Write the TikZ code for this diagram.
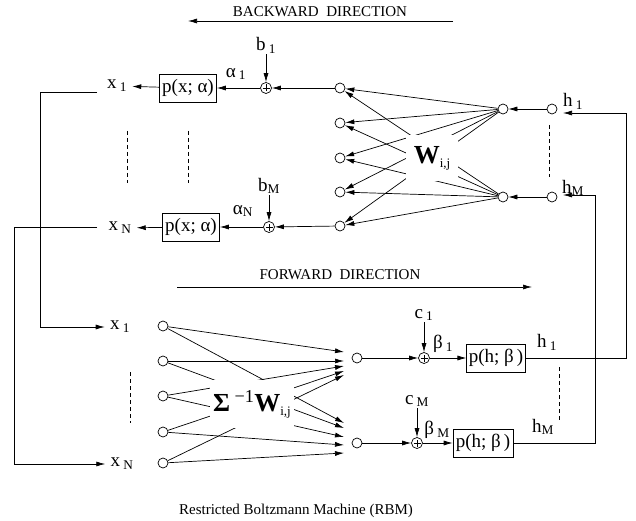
\documentclass[tikz,border=0pt]{standalone}
\usepackage{fontspec}
\setmainfont{Liberation Serif}
\usetikzlibrary{arrows.meta}

\newcommand\labfont{\fontsize{19}{21}\selectfont}
\newcommand\dirfont{\fontsize{15}{17}\selectfont}
\newcommand\wfont{\fontsize{26}{28}\selectfont}
\newcommand\wsub[1]{\raisebox{-4pt}{\fontsize{13}{13}\selectfont #1}}

\tikzset{
  arr/.style={-{Latex[length=9pt,width=5pt]}},
  unit/.style={circle, draw, minimum size=10pt, inner sep=0pt},
  adder/.style={circle, draw, minimum size=11pt, inner sep=0pt,
    path picture={
      \draw (path picture bounding box.center) ++(-3.5pt,0) -- ++(7pt,0);
      \draw (path picture bounding box.center) ++(0,-3.5pt) -- ++(0,7pt);
    }},
  pbox/.style={draw, minimum height=28pt, minimum width=57pt, inner xsep=2pt, font=\labfont},
  lab/.style={font=\labfont, inner sep=1pt},
  xlab/.style={font=\labfont, inner xsep=5pt, inner ysep=1pt},
  wlab/.style={font=\wfont, fill=white},
  elide/.style={dash pattern=on 4pt off 3pt},
}

\begin{document}
\begin{tikzpicture}[x=1pt, y=-1pt, line width=0.7pt]
  \useasboundingbox (0,0) rectangle (636,521);

  % Direction arrows
  \node[font=\dirfont] (bwd) at (320,12) {BACKWARD\enspace DIRECTION};
  \coordinate (bwdR) at (453,21);
  \coordinate (bwdL) at (188,21);
  \draw[arr] (bwdR) -- (bwdL);

  \node[font=\dirfont] (fwd) at (340,275) {FORWARD\enspace DIRECTION};
  \coordinate (fwdL) at (177,287);
  \coordinate (fwdR) at (532,287);
  \draw[arr] (fwdL) -- (fwdR);

  % Backward network
  \foreach \i/\y in {1/88, 2/123, 3/158, 4/192, 5/226}
    \node[unit] (bl\i) at (340,\y) {};
  \node[unit] (br1) at (503,109) {};
  \node[unit] (br2) at (503,197) {};
  \node[unit] (bh1) at (552,109) {};
  \node[unit] (bh2) at (552,197) {};
  \draw[arr] (bh1) -- (br1);
  \draw[arr] (bh2) -- (br2);
  \foreach \j in {1,2} {
    \foreach \i in {1,...,5} {
      \draw[arr] (br\j) -- (bl\i);
    }
  }
  \node[wlab, minimum width=52pt, minimum height=46pt] (wb) at (432,158)
    {\textbf{W}\wsub{i,j}};
  \node[lab] (hb1) at (573,101) {h\,\textsubscript{1}};
  \node[lab] (hb2) at (573,188) {h\textsubscript{M}};
  \draw[elide] (549,125) -- (549,177);

  % Backward outputs
  \node[adder] (ba1) at (266,88) {};
  \node[adder] (ba2) at (269,227) {};
  \node[pbox] (pb1) at (188,88) {p(x; α)};
  \node[pbox] (pb2) at (191,227) {p(x; α)};
  \node[xlab] (xb1) at (117,86) {x\,\textsubscript{1}};
  \node[xlab] (xb2) at (120,228) {x\,\textsubscript{N}};
  \node[lab] (bb1) at (266,45) {b\,\textsubscript{1}};
  \node[lab] (bb2) at (269,186) {b\textsubscript{M}};
  \node[lab] (al1) at (236,74) {α\,\textsubscript{1}};
  \node[lab] (al2) at (243,211) {α\textsubscript{N}};
  \draw[arr] (bl1) -- (ba1);
  \draw[arr] (bl5) -- (ba2);
  \draw[arr] (bb1) -- (ba1);
  \draw[arr] (bb2) -- (ba2);
  \draw[arr] (ba1) -- (pb1);
  \draw[arr] (ba2) -- (pb2);
  \draw[arr] (pb1) -- (xb1);
  \draw[arr] (pb2) -- (xb2);
  \draw[elide] (127,131) -- (127,183);
  \draw[elide] (188,131) -- (188,183);

  % Forward network (arrow tips fan out in front of the hidden units)
  \node[unit] (fr1) at (357,358) {};
  \node[unit] (fr2) at (357,443) {};
  \foreach \i/\y/\ta/\tb in {1/326/352/423, 2/361/361/428, 3/396/366/437,
                             4/432/371/445, 5/463/375/453} {
    \node[unit] (fl\i) at (163,\y) {};
    \coordinate (tu\i) at (344,\ta);
    \coordinate (td\i) at (344,\tb);
    \draw[arr] (fl\i) -- (tu\i);
    \draw[arr] (fl\i) -- (td\i);
  }
  \node[wlab, minimum width=76pt, minimum height=48pt] (wf) at (252,404)
    {\textbf{Σ}\,\textsuperscript{−1}\textbf{W}\wsub{i,j}};
  \node[xlab] (xf1) at (120,327) {x\,\textsubscript{1}};
  \node[xlab] (xf2) at (122,464) {x\,\textsubscript{N}};
  \draw[elide] (130,372) -- (130,423);

  % Forward outputs
  \node[adder] (fa1) at (424,358) {};
  \node[adder] (fa2) at (417,443) {};
  \node[pbox, minimum width=58pt] (pf1) at (496,358) {p(h; β\,)};
  \node[pbox, minimum width=60pt] (pf2) at (483,443) {p(h; β\,)};
  \node[lab] (cc1) at (424,315) {c\,\textsubscript{1}};
  \node[lab] (cc2) at (417,401) {c\,\textsubscript{M}};
  \node[lab] (be1) at (443,344) {β\,\textsubscript{1}};
  \node[lab] (be2) at (437,430) {β\,\textsubscript{M}};
  \node[lab] (hf1) at (547,342) {h\,\textsubscript{1}};
  \node[lab] (hf2) at (543,427) {h\textsubscript{M}};
  \draw[arr] (fr1) -- (fa1);
  \draw[arr] (fr2) -- (fa2);
  \draw[arr] (cc1) -- (fa1);
  \draw[arr] (cc2) -- (fa2);
  \draw[arr] (fa1) -- (pf1);
  \draw[arr] (fa2) -- (pf2);
  \draw[elide] (559,367) -- (559,420);

  % Feedback loops
  \coordinate (fb1) at (97,92);
  \coordinate (fb2) at (97,227);
  \draw[arr] (fb1) -- (40,92) |- (xf1);
  \draw[arr] (fb2) -- (14,227) |- (xf2);
  \coordinate (hin1) at (563,113);
  \coordinate (hin2) at (563,195);
  \draw[arr] (pf1) -- (626,358) |- (hin1);
  \draw[arr] (pf2) -- (595,443) |- (hin2);

  % Caption
  \node[font=\dirfont] (cap) at (296,511) {Restricted Boltzmann Machine (RBM)};
\end{tikzpicture}
\end{document}
